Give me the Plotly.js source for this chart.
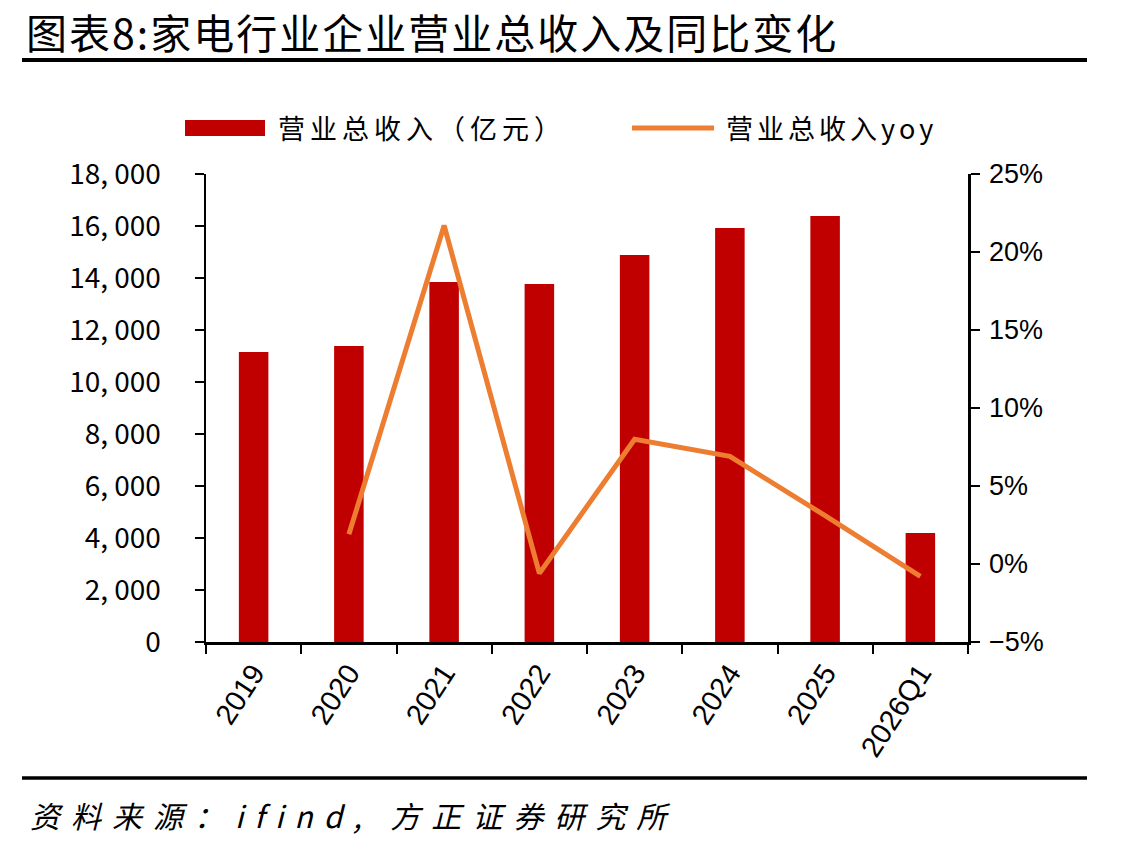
<!DOCTYPE html>
<html>
<head>
<meta charset="utf-8">
<script src="https://cdn.plot.ly/plotly-3.0.1.min.js"></script>
<style>html,body{margin:0;padding:0;background:#fff;}#chart{width:1132px;height:850px;}</style>
</head>
<body>
<div id="chart"></div>
<script>
const categories = ["2019","2020","2021","2022","2023","2024","2025","2026Q1"];
const revenue = [11150, 11380, 13850, 13770, 14880, 15920, 16380, 4190];
const revenueYoy = [null, 1.9, 21.7, -0.6, 8.0, 6.9, 3.1, -0.8];
const leftTickVals = [0, 2000, 4000, 6000, 8000, 10000, 12000, 14000, 16000, 18000];
const leftTickText = ["0","2, 000","4, 000","6, 000","8, 000","10, 000","12, 000","14, 000","16, 000","18, 000"];
const seriesNames = ["营业总收入（亿元）", "营业总收入yoy"];
const titleText = "图表8:家电行业企业营业总收入及同比变化";
const sourceText = "资料来源：ifind, 方正证券研究所";

const L = 206, R = 968, T = 174, B = 642;
const W = R - L, H = B - T;
const px = x => (x - L) / W;
const py = y => (B - y) / H;

const cjk = '"Noto Sans CJK SC", sans-serif';
const arial = '"Liberation Sans", Arial, sans-serif';
const spaced = (s, n) => '<span style="letter-spacing:' + n + 'px">' + s + '</span>';

const traces = [
  {type:'bar', x:categories, y:revenue, name:seriesNames[0], marker:{color:'#C00000'}, width:0.31, showlegend:false, hoverinfo:'x+y'},
  {type:'scatter', mode:'lines', x:categories, y:revenueYoy, name:seriesNames[1], yaxis:'y2', line:{color:'#ED7D31', width:5}, connectgaps:false, showlegend:false}
];

const layout = {
  width:1132, height:850,
  margin:{l:L, r:1132-R, t:T, b:850-B, pad:0},
  paper_bgcolor:'#fff', plot_bgcolor:'#fff',
  xaxis:{type:'category', tickson:'boundaries', ticks:'outside', ticklen:9, tickwidth:2, tickcolor:'#000',
         showline:true, linecolor:'#000', linewidth:2.5, showgrid:false, tickangle:-57,
         tickfont:{family:arial, size:29, color:'#000'}, range:[-0.5,7.5], fixedrange:true},
  yaxis:{range:[0,18000], tickvals:leftTickVals, ticktext:leftTickText, ticks:'outside', ticklen:9, tickwidth:2, tickcolor:'#000',
         showline:true, linecolor:'#000', linewidth:2.5, showgrid:false, zeroline:false,
         tickfont:{family:cjk, size:28, color:'#000'}, ticklabelstandoff:28},
  yaxis2:{overlaying:'y', side:'right', range:[-5,25], dtick:5, tick0:0, ticksuffix:'%', ticks:'outside', ticklen:9, tickwidth:2, tickcolor:'#000',
          showline:true, linecolor:'#000', linewidth:2.5, showgrid:false, zeroline:false,
          tickfont:{family:arial, size:27, color:'#000'}, ticklabelstandoff:4},
  shapes:[
    {type:'line', xref:'paper', yref:'paper', x0:px(22), x1:px(1087), y0:py(60), y1:py(60), line:{color:'#000', width:4}},
    {type:'line', xref:'paper', yref:'paper', x0:px(22), x1:px(1087), y0:py(778), y1:py(778), line:{color:'#000', width:3.5}},
    {type:'rect', xref:'paper', yref:'paper', x0:px(185), x1:px(265), y0:py(136), y1:py(120), fillcolor:'#C00000', line:{width:0}},
    {type:'line', xref:'paper', yref:'paper', x0:px(632), x1:px(714), y0:py(128), y1:py(128), line:{color:'#ED7D31', width:5}}
  ],
  annotations:[
    {xref:'paper', yref:'paper', x:px(24), y:py(31), xanchor:'left', yanchor:'middle', showarrow:false, text:spaced(titleText, 2), font:{family:cjk, size:41, color:'#000'}},
    {xref:'paper', yref:'paper', x:px(276), y:py(128), xanchor:'left', yanchor:'middle', showarrow:false, text:spaced(seriesNames[0], 5), font:{family:cjk, size:27, color:'#000'}},
    {xref:'paper', yref:'paper', x:px(724), y:py(128), xanchor:'left', yanchor:'middle', showarrow:false, text:spaced(seriesNames[1], 4), font:{family:cjk, size:27, color:'#000'}},
    {xref:'paper', yref:'paper', x:px(28), y:py(815), xanchor:'left', yanchor:'middle', showarrow:false, text:'<i>'+spaced(sourceText, 11)+'</i>', font:{family:cjk, size:30, color:'#000'}}
  ]
};

Plotly.newPlot('chart', traces, layout, {displayModeBar:false, staticPlot:true});
</script>
</body>
</html>
